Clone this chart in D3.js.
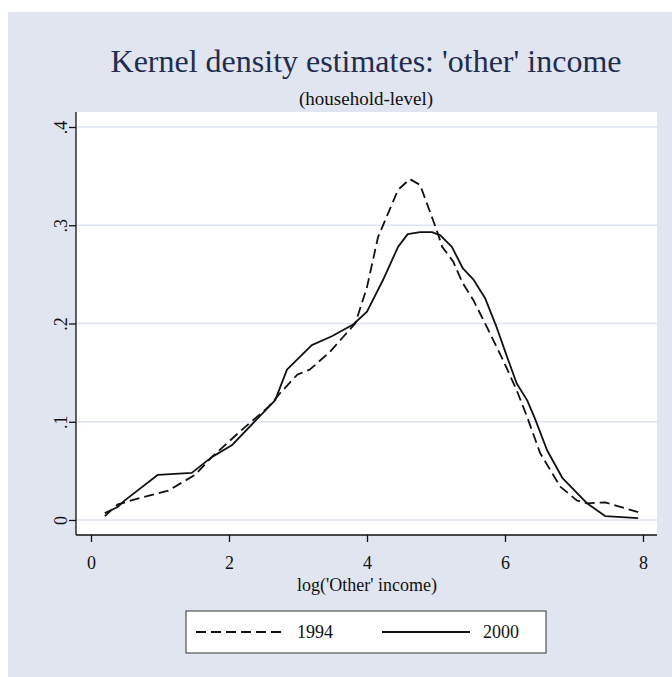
<!DOCTYPE html>
<html>
<head>
<meta charset="utf-8">
<script src="https://cdn.jsdelivr.net/npm/d3@7"></script>
<style>
  html, body { margin: 0; padding: 0; background: #ffffff; }
  svg { display: block; }
  svg text { font-family: 'Liberation Serif', 'DejaVu Serif', Times, serif !important; }
</style>
</head>
<body>
<svg id="chart" width="672" height="677"></svg>
<script>
// Kernel density of log('Other' income), household level
const x1994 = [0.20, 0.39, 0.74, 1.12, 1.51, 1.75, 2.19, 2.57, 2.74, 2.99, 3.17, 3.46, 3.65, 3.83, 4.00, 4.16, 4.45, 4.62, 4.77, 5.01, 5.09, 5.25, 5.38, 5.54, 5.74, 5.97, 6.17, 6.32, 6.51, 6.80, 7.04, 7.19, 7.45, 7.93];
const y1994 = [0.004, 0.016, 0.023, 0.030, 0.046, 0.064, 0.092, 0.115, 0.129, 0.148, 0.153, 0.171, 0.186, 0.200, 0.237, 0.288, 0.336, 0.347, 0.341, 0.295, 0.278, 0.263, 0.242, 0.224, 0.196, 0.163, 0.132, 0.105, 0.068, 0.034, 0.020, 0.017, 0.018, 0.008];

const x2000 = [0.20, 0.38, 0.49, 0.97, 1.46, 1.75, 2.04, 2.67, 2.84, 3.20, 3.49, 3.80, 4.00, 4.23, 4.45, 4.59, 4.77, 4.94, 5.06, 5.23, 5.39, 5.54, 5.71, 5.88, 6.03, 6.17, 6.32, 6.43, 6.61, 6.83, 7.19, 7.45, 7.93];
const y2000 = [0.007, 0.013, 0.020, 0.046, 0.048, 0.064, 0.076, 0.122, 0.153, 0.178, 0.187, 0.199, 0.212, 0.244, 0.278, 0.291, 0.293, 0.293, 0.290, 0.278, 0.256, 0.245, 0.226, 0.196, 0.166, 0.139, 0.122, 0.104, 0.071, 0.043, 0.017, 0.004, 0.002];

const xTicks = [0, 2, 4, 6, 8];
const yTicks = [0, 0.1, 0.2, 0.3, 0.4];
const yTickLabels = ["0", ".1", ".2", ".3", ".4"];
const seriesNames = ["1994", "2000"];

const FONT = "'Liberation Serif', 'DejaVu Serif', Times, serif";
const svg = d3.select("#chart");
const W = 672, H = 677;

// graph region
svg.append("rect").attr("x", 8).attr("y", 12).attr("width", W - 8).attr("height", H - 12)
  .attr("fill", "#e1e5f0");

// plot region frame
const plot = { left: 76, right: 657, top: 112, bottom: 535 };
svg.append("rect").attr("x", plot.left).attr("y", plot.top)
  .attr("width", plot.right - plot.left).attr("height", plot.bottom - plot.top)
  .attr("fill", "#ffffff");

const x = d3.scaleLinear().domain([0, 8]).range([91, 643]);
const y = d3.scaleLinear().domain([0, 0.4]).range([520, 127]);

// horizontal grid
svg.append("g").selectAll("line").data(yTicks).join("line")
  .attr("x1", plot.left + 1).attr("x2", plot.right)
  .attr("y1", d => y(d)).attr("y2", d => y(d))
  .attr("stroke", "#dde3ef").attr("stroke-width", 1.6);

// y axis
const yAxis = svg.append("g").attr("transform", `translate(${plot.left},0)`)
  .call(d3.axisLeft(y).tickValues(yTicks).tickSize(7).tickFormat((d, i) => yTickLabels[i]))
  .attr("font-family", FONT);
yAxis.select(".domain").attr("d", `M0,${plot.top}V${plot.bottom}`).attr("stroke", "#111").attr("stroke-width", 1.3);
yAxis.selectAll(".tick line").attr("stroke", "#111").attr("stroke-width", 1.3);
yAxis.selectAll(".tick text")
  .attr("x", 0).attr("y", 0).attr("dy", 0)
  .attr("transform", "translate(-9,0) rotate(-90)")
  .attr("text-anchor", "middle")
  .attr("font-size", 18).attr("fill", "#111");

// x axis
const xAxis = svg.append("g").attr("transform", `translate(0,${plot.bottom})`)
  .call(d3.axisBottom(x).tickValues(xTicks).tickSize(7).tickFormat(d3.format("d")))
  .attr("font-family", FONT);
xAxis.select(".domain").attr("d", `M${plot.left},0H${plot.right}`).attr("stroke", "#111").attr("stroke-width", 1.3);
xAxis.selectAll(".tick line").attr("stroke", "#111").attr("stroke-width", 1.3);
xAxis.selectAll(".tick text").attr("y", 28).attr("dy", "0.32em")
  .attr("font-size", 18).attr("fill", "#111");

// x axis title
svg.append("text").attr("x", 367).attr("y", 591).attr("text-anchor", "middle")
  .attr("font-family", FONT)
  .attr("font-size", 18).attr("fill", "#111").text("log('Other' income)");

// density curves
const line = d3.line().x(d => x(d[0])).y(d => y(d[1]));
const pts94 = x1994.map((v, i) => [v, y1994[i]]);
const pts00 = x2000.map((v, i) => [v, y2000[i]]);

svg.append("path").datum(pts94).attr("d", line)
  .attr("fill", "none").attr("stroke", "#111").attr("stroke-width", 1.8)
  .attr("stroke-dasharray", "10,5").attr("stroke-linejoin", "round");
svg.append("path").datum(pts00).attr("d", line)
  .attr("fill", "none").attr("stroke", "#111").attr("stroke-width", 1.8)
  .attr("stroke-linejoin", "round");

// titles
svg.append("text").attr("x", 366).attr("y", 72).attr("text-anchor", "middle")
  .attr("font-family", FONT)
  .attr("font-size", 32).attr("fill", "#1f2d4e")
  .text("Kernel density estimates: 'other' income");
svg.append("text").attr("x", 366).attr("y", 105).attr("text-anchor", "middle")
  .attr("font-family", FONT)
  .attr("font-size", 19).attr("fill", "#111")
  .text("(household-level)");

// legend
const lg = svg.append("g");
lg.append("rect").attr("x", 186).attr("y", 611).attr("width", 360).attr("height", 42)
  .attr("fill", "#ffffff").attr("stroke", "#333").attr("stroke-width", 1);
const legendItems = [
  { name: seriesNames[0], dash: "10,5", x0: 196, x1: 283, tx: 297 },
  { name: seriesNames[1], dash: null, x0: 382, x1: 470, tx: 483 }
];
legendItems.forEach(it => {
  lg.append("line").attr("x1", it.x0).attr("x2", it.x1).attr("y1", 632).attr("y2", 632)
    .attr("stroke", "#111").attr("stroke-width", 1.8)
    .attr("stroke-dasharray", it.dash);
  lg.append("text").attr("x", it.tx).attr("y", 638).attr("font-size", 18).attr("fill", "#111")
    .attr("font-family", FONT)
    .text(it.name);
});
</script>
</body>
</html>
